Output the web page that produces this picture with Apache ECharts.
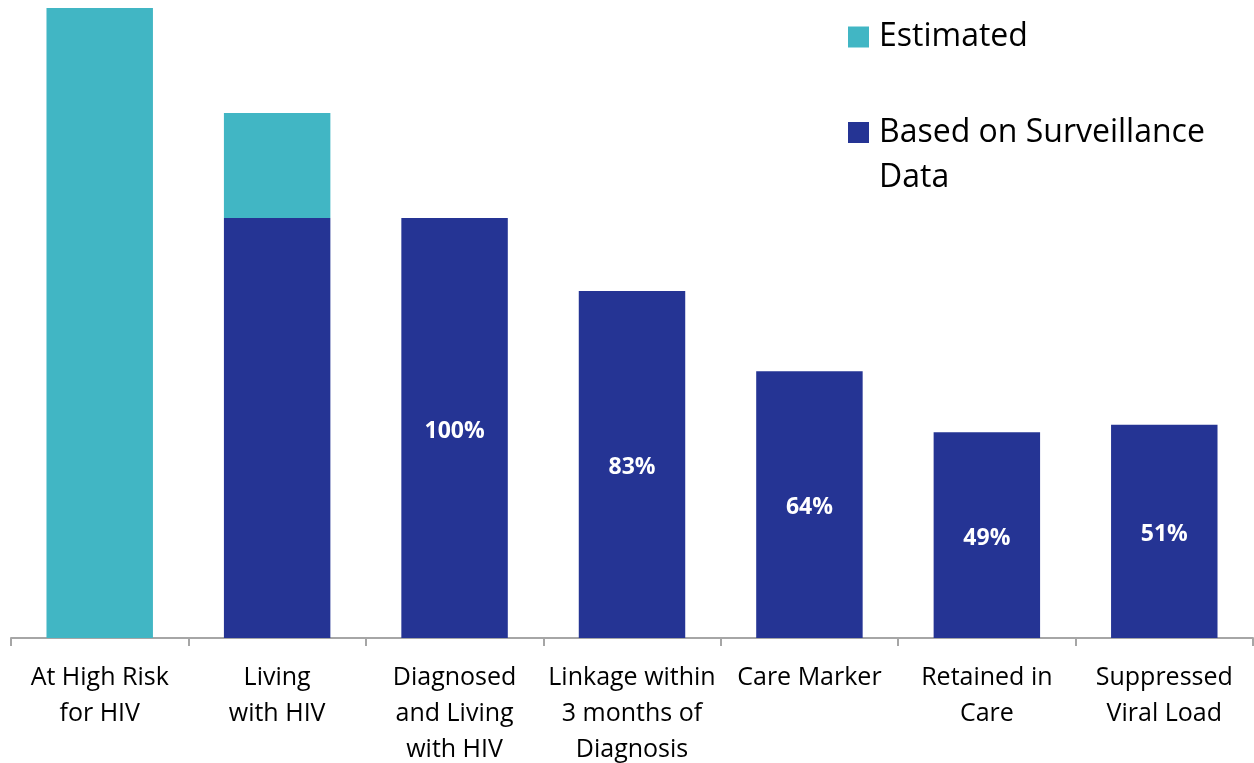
<!DOCTYPE html>
<html>
<head>
<meta charset="utf-8">
<script src="https://cdn.jsdelivr.net/npm/echarts@6/dist/echarts.min.js"></script>
<style>
    html, body { margin: 0; padding: 0; background: #fff; }
    #chart { width: 1254px; height: 763px; }
</style>
</head>
<body>
<div id="chart"></div>
<script>
// categories (line breaks as in the tick labels)
var categories = [
    'At High Risk\nfor HIV',
    'Living\nwith HIV',
    'Diagnosed\nand Living\nwith HIV',
    'Linkage within\n3 months of\nDiagnosis',
    'Care Marker',
    'Retained in\nCare',
    'Suppressed\nViral Load'
];
// bar heights, in % of "Diagnosed and Living with HIV"
var surveillance = ['-', 100, 100, 82.6, 63.5, 49, 50.8];
var estimated = [150, 25, '-', '-', '-', '-', '-'];
// labels printed inside the bars
var pctLabels = ['', '', '100%', '83%', '64%', '49%', '51%'];

var font = 'Open Sans';
var chart = echarts.init(document.getElementById('chart'));

var option = {
    animation: false,
    grid: { left: 11, right: 1, top: 8, bottom: 125, outerBoundsMode: 'none' },
    legend: [{
        left: 848,
        top: 17,
        padding: 0,
        itemWidth: 21,
        itemHeight: 21,
        icon: 'rect',
        selectedMode: false,
        data: ['Estimated'],
        textStyle: { fontFamily: font, fontSize: 32, color: '#000', lineHeight: 40, padding: [0, 0, 0, 5] }
    }, {
        left: 848,
        top: 65,
        padding: 0,
        itemWidth: 21,
        itemHeight: 21,
        icon: 'rect',
        selectedMode: false,
        data: ['Based on Surveillance Data'],
        formatter: function () {
            return '{e| }\n{a|Based on Surveillance}\n{a|Data}';
        },
        textStyle: {
            fontFamily: font, fontSize: 32, color: '#000', padding: [0, 0, 0, 5],
            rich: {
                e: { height: 45, lineHeight: 45, fontSize: 32 },
                a: { fontFamily: font, fontSize: 32, lineHeight: 45, color: '#000' }
            }
        }
    }],
    xAxis: {
        type: 'category',
        data: categories,
        axisLine: { lineStyle: { color: '#A6A6A6', width: 2 } },
        axisTick: { show: true, length: 8, lineStyle: { color: '#A6A6A6', width: 2 } },
        axisLabel: {
            interval: 0,
            margin: 22,
            fontFamily: font,
            fontSize: 25,
            lineHeight: 36,
            color: '#000'
        }
    },
    yAxis: {
        type: 'value',
        min: 0,
        max: 150,
        show: false,
        splitLine: { show: false }
    },
    series: [{
        name: 'Based on Surveillance Data',
        type: 'bar',
        stack: 'total',
        barWidth: '60%',
        data: surveillance,
        itemStyle: { color: '#253494' },
        label: {
            show: true,
            position: 'inside',
            offset: [0, 3],
            color: '#fff',
            fontFamily: font,
            fontWeight: 'bold',
            fontSize: 23,
            formatter: function (p) { return pctLabels[p.dataIndex]; }
        }
    }, {
        name: 'Estimated',
        type: 'bar',
        stack: 'total',
        barWidth: '60%',
        data: estimated,
        itemStyle: { color: '#41B6C4' }
    }]
};

chart.setOption(option);
</script>
</body>
</html>
